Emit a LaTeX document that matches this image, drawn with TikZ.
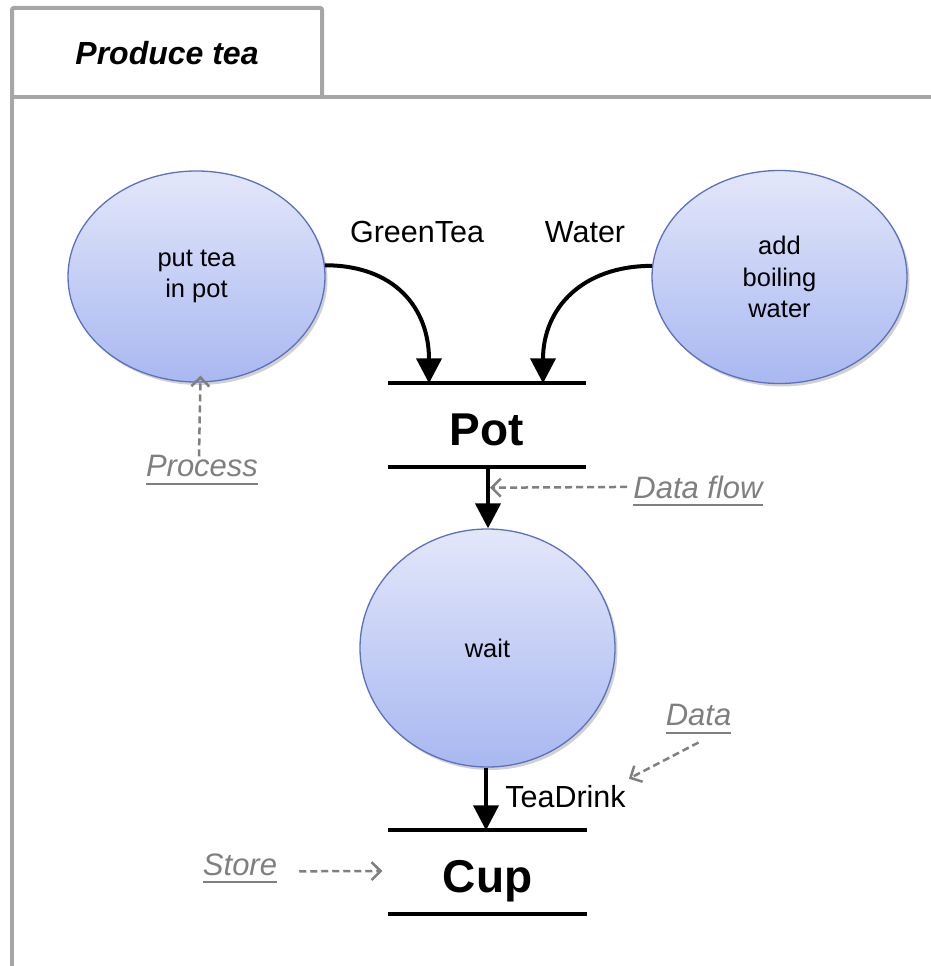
\documentclass[tikz,border=0pt]{standalone}
\usepackage{fontspec}
\setmainfont{Liberation Sans}
\usetikzlibrary{arrows.meta,shapes.geometric,shadows,calc}

\definecolor{framegray}{HTML}{A6A6A6}
\definecolor{notegray}{HTML}{7F7F7F}
\definecolor{procedge}{HTML}{5A72BD}
\definecolor{proctop}{HTML}{E3E7FA}
\definecolor{procbottom}{HTML}{A8B8F1}

\begin{document}
\begin{tikzpicture}[x=1pt,y=-1pt,
  proc/.style={ellipse, draw=procedge, line width=1.3pt,
    top color=proctop, bottom color=procbottom, inner sep=0pt, align=center,
    font=\fontsize{25.5}{31.5}\selectfont,
    drop shadow={shadow xshift=2.5pt, shadow yshift=-3pt, opacity=0.18, fill=black}},
  store/.style={rectangle, inner sep=0pt, minimum width=198pt, minimum height=83pt,
    text height=41pt, text depth=0pt, font=\bfseries\fontsize{46}{50}\selectfont},
  storeline/.style={line width=4pt},
  flow/.style={line width=4pt, -{Triangle[length=25pt,width=25pt]}},
  flowlabel/.style={inner sep=0pt, anchor=base, font=\fontsize{30.5}{36}\selectfont},
  note/.style={inner sep=0pt, anchor=base, text=notegray, font=\itshape\fontsize{31}{36}\selectfont},
  noteline/.style={notegray, line width=2pt},
  notearrow/.style={notegray, line width=2.5pt, dash pattern=on 7pt off 4pt,
    -{Straight Barb[length=9pt,width=18pt,line width=2.5pt]}},
  frameline/.style={framegray, line width=4pt}
]
\useasboundingbox (0,0) rectangle (931,966);

% frame with title tab
\draw[frameline, rounded corners=2pt] (12,97) -- (12,8) -- (322,8) -- (322,97);
\draw[frameline] (931,97) -- (12,97) -- (12,966);
\node[anchor=base, inner sep=0pt, font=\bfseries\itshape\fontsize{32}{38}\selectfont] (title) at (167,65) {Produce tea};

% processes
\node[proc, minimum width=257pt, minimum height=211pt] (tea) at (196.5,276.5) {put tea\\in pot};
\node[proc, minimum width=255pt, minimum height=213pt] (boil) at (779.5,277) {add\\boiling\\water};
\node[proc, minimum width=255pt, minimum height=238pt] (wait) at (487.5,648) {wait};

% stores
\node[store] (pot) at (487,425) {Pot};
\draw[storeline] (pot.north west) -- (pot.north east);
\draw[storeline] (pot.south west) -- (pot.south east);
\node[store] (cup) at (487.5,872) {Cup};
\draw[storeline] (cup.north west) -- (cup.north east);
\draw[storeline] (cup.south west) -- (cup.south east);

% data flows
\draw[flow] (tea.5) .. controls +(70,0) and +(0,-75) .. ([xshift=-58pt]pot.north);
\draw[flow] (boil.175) .. controls +(-70,0) and +(0,-75) .. ([xshift=56pt]pot.north);
\draw[flow] ([xshift=1pt]pot.south) -- ([xshift=0.5pt]wait.north);
\draw[flow] ([xshift=-1.5pt]wait.south) -- ([xshift=-1.5pt]cup.north);

\node[flowlabel] (greentea) at (417,242) {GreenTea};
\node[flowlabel] (water) at (585,242) {Water};
\node[flowlabel] (teadrink) at (565.5,807) {TeaDrink};

% annotations
\node[note] (process) at (202,476) {Process};
\draw[noteline] ($(process.base west)+(0,8)$) -- ($(process.base east)+(0,8)$);
\coordinate (processtip) at ($(tea.south)+(4,-7)$);
\draw[notearrow] ([xshift=-3pt,yshift=-2pt]process.north) -- (processtip);

\node[note] (dflow) at (698,498) {Data flow};
\draw[noteline] ($(dflow.base west)+(0,7)$) -- ($(dflow.base east)+(0,7)$);
\coordinate (dflowtip) at ($(pot.south)+(3,21)$);
\draw[notearrow] ([xshift=-6pt]dflow.west) -- (dflowtip);

\node[note] (data) at (698.5,725) {Data};
\draw[noteline] ($(data.base west)+(0,8)$) -- ($(data.base east)+(0,8)$);
\coordinate (datatip) at ($(teadrink.north east)+(3,-6)$);
\draw[notearrow] ($(data.south)+(0,17)$) -- (datatip);

\node[note] (storenote) at (240,875) {Store};
\draw[noteline] ($(storenote.base west)+(0,7)$) -- ($(storenote.base east)+(0,7)$);
\draw[notearrow] ($(storenote.east)+(22,7)$) -- ($(cup.west)+(-6,-1)$);
\end{tikzpicture}
\end{document}
